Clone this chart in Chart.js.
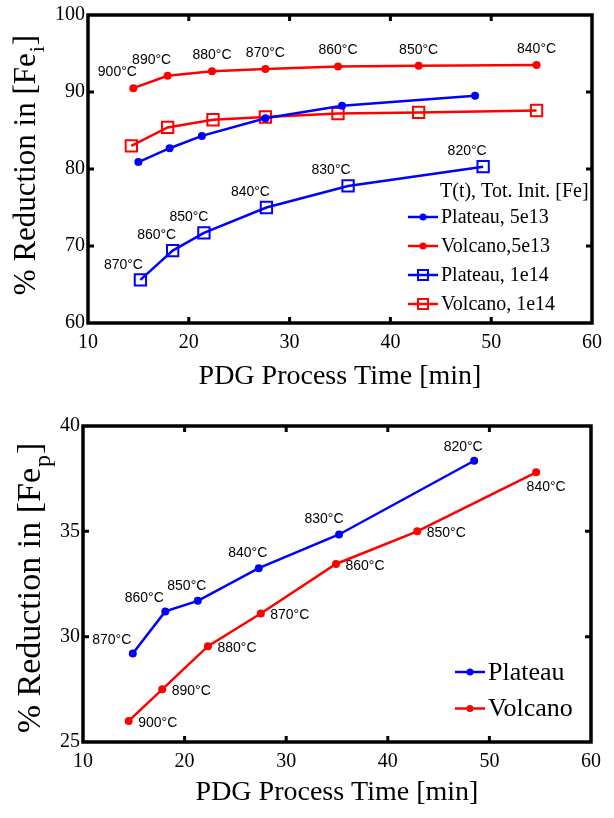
<!DOCTYPE html>
<html>
<head>
<meta charset="utf-8">
<script src="https://cdn.jsdelivr.net/npm/chart.js@4.4.1/dist/chart.umd.min.js"></script>
<style>
  body { margin: 0; background: #fff; }
  .wrap { position: absolute; left: 0; }
  #top { top: 0; }
  #bot { top: 400px; }
</style>
</head>
<body>
<div class="wrap" id="top"><canvas id="ch1" width="614" height="400"></canvas></div>
<div class="wrap" id="bot"><canvas id="ch2" width="614" height="418"></canvas></div>
<script>
// top panel - total initial Fe
var timeP5 = [15.0, 18.1, 21.3, 27.6, 35.2, 48.4];
var redP5 = [80.9, 82.7, 84.3, 86.6, 88.2, 89.5];
var timeV5 = [14.5, 17.9, 22.3, 27.6, 34.8, 42.8, 54.5];
var redV5 = [90.5, 92.1, 92.7, 93.0, 93.3, 93.4, 93.5];
var timeP14 = [15.2, 18.4, 21.5, 27.7, 35.8, 49.2];
var redP14 = [65.6, 69.4, 71.7, 75.0, 77.8, 80.3];
var timeV14 = [14.3, 17.9, 22.4, 27.6, 34.8, 42.8, 54.5];
var redV14 = [83.0, 85.4, 86.4, 86.75, 87.2, 87.35, 87.6];
var tempsV = ['900°C', '890°C', '880°C', '870°C', '860°C', '850°C', '840°C'];
var tempsP = ['870°C', '860°C', '850°C', '840°C', '830°C', '820°C'];

// bottom panel - precipitated Fe
var timeP = [14.9, 18.1, 21.3, 27.3, 35.2, 48.5];
var redP = [29.2, 31.2, 31.7, 33.25, 34.85, 38.35];
var timeV = [14.5, 17.8, 22.3, 27.5, 34.9, 42.9, 54.6];
var redV = [26.0, 27.5, 29.55, 31.1, 33.45, 35.0, 37.8];

var xTicks = [10, 20, 30, 40, 50, 60];

var serif = "'Liberation Serif', 'Times New Roman', serif";
var sans = "'Liberation Sans', Arial, sans-serif";
var BLUE = '#0000ff', RED = '#ff0000';

function pts(xs, ys) {
  return xs.map(function (x, i) { return { x: x, y: ys[i] }; });
}

function ds(label, xs, ys, color, square, temps) {
  return {
    label: label,
    data: pts(xs, ys),
    borderColor: color,
    backgroundColor: color,
    borderWidth: 2.5,
    pointStyle: square ? 'rect' : 'circle',
    pointRadius: square ? 8 : 4,
    pointBorderWidth: square ? 2 : 0,
    pointBackgroundColor: square ? 'rgba(0,0,0,0)' : color,
    pointBorderColor: color,
    temps: temps
  };
}

// frame, inward ticks, titles, point labels, legend
var decor = {
  id: 'decor',
  afterDatasetsDraw: function (chart, args, o) {
    var ctx = chart.ctx, a = chart.chartArea;
    ctx.save();
    // temperature labels
    ctx.font = '14px ' + sans;
    ctx.fillStyle = '#000';
    ctx.textAlign = 'center';
    ctx.textBaseline = 'middle';
    chart.data.datasets.forEach(function (d, di) {
      if (!d.temps) return;
      var meta = chart.getDatasetMeta(di);
      var off = o.offsets[di];
      meta.data.forEach(function (p, i) {
        ctx.fillText(d.temps[i], p.x + off.dx[i], p.y + off.dy[i]);
      });
    });

    // box and inward ticks
    ctx.strokeStyle = '#000';
    ctx.lineWidth = 3.5;
    ctx.strokeRect(a.left, a.top, a.right - a.left, a.bottom - a.top);
    ctx.lineWidth = 3;
    var sx = chart.scales.x, sy = chart.scales.y;
    sx.ticks.forEach(function (t) {
      var px = sx.getPixelForValue(t.value);
      if (px <= a.left + 2 || px >= a.right - 2) return;
      ctx.beginPath();
      ctx.moveTo(px, a.bottom); ctx.lineTo(px, a.bottom - 6);
      ctx.moveTo(px, a.top); ctx.lineTo(px, a.top + 6);
      ctx.stroke();
    });
    sy.ticks.forEach(function (t) {
      var py = sy.getPixelForValue(t.value);
      if (py <= a.top + 2 || py >= a.bottom - 2) return;
      ctx.beginPath();
      ctx.moveTo(a.left, py); ctx.lineTo(a.left + 6, py);
      ctx.moveTo(a.right, py); ctx.lineTo(a.right - 6, py);
      ctx.stroke();
    });

    // x title
    ctx.font = '28px ' + serif;
    ctx.textAlign = 'center';
    ctx.textBaseline = 'middle';
    ctx.fillText('PDG Process Time [min]', (a.left + a.right) / 2, o.xTitleY);

    // y title with subscript
    ctx.save();
    ctx.translate(o.yTitleX, o.yTitleY);
    ctx.rotate(-Math.PI / 2);
    var f1 = o.yFont + 'px ' + serif, f2 = Math.round(o.yFont * 0.7) + 'px ' + serif;
    var s1 = '% Reduction in [Fe', s2 = o.sub, s3 = ']';
    ctx.font = f1; var w1 = ctx.measureText(s1).width, w3 = ctx.measureText(s3).width;
    ctx.font = f2; var w2 = ctx.measureText(s2).width;
    var x0 = -(w1 + w2 + w3 + 2) / 2;
    ctx.textAlign = 'left';
    ctx.textBaseline = 'alphabetic';
    ctx.font = f1; ctx.fillText(s1, x0, o.yFont * 0.33);
    ctx.font = f2; ctx.fillText(s2, x0 + w1 + 1, o.yFont * 0.62);
    ctx.font = f1; ctx.fillText(s3, x0 + w1 + w2 + 2, o.yFont * 0.33);
    ctx.restore();

    // legend
    var L = o.legend;
    ctx.font = L.font + 'px ' + serif;
    ctx.textAlign = 'left';
    ctx.textBaseline = 'middle';
    if (L.title) ctx.fillText(L.title, L.titleX, L.titleY);
    chart.data.datasets.forEach(function (d, i) {
      var y = L.y0 + i * L.step;
      ctx.strokeStyle = d.borderColor;
      ctx.lineWidth = 2.5;
      ctx.beginPath();
      ctx.moveTo(L.x0, y); ctx.lineTo(L.x0 + L.len, y);
      ctx.stroke();
      var cx = L.x0 + L.len / 2;
      if (d.pointStyle === 'rect') {
        ctx.lineWidth = 2;
        ctx.strokeRect(cx - 5, y - 5, 10, 10);
      } else {
        ctx.fillStyle = d.borderColor;
        ctx.beginPath(); ctx.arc(cx, y, 3.5, 0, Math.PI * 2); ctx.fill();
      }
      ctx.fillStyle = '#000';
      ctx.fillText(d.label, L.x0 + L.len + 3, y + 1);
    });
    ctx.restore();
  }
};

function baseOptions(yMin, yMax, yStep, padTop, padRight, yWidth, xHeight, decorOpts) {
  return {
    responsive: false,
    animation: false,
    layout: { padding: { top: padTop, right: padRight, left: 0, bottom: 0 } },
    plugins: { legend: { display: false }, tooltip: { enabled: false }, decor: decorOpts },
    scales: {
      x: {
        type: 'linear', min: 10, max: 60,
        afterBuildTicks: function (s) { s.ticks = xTicks.map(function (v) { return { value: v }; }); },
        ticks: { font: { family: serif, size: 20 }, color: '#000', padding: 8, maxRotation: 0 },
        grid: { display: false, drawTicks: false },
        border: { display: false },
        afterFit: function (s) { s.height = xHeight; }
      },
      y: {
        min: yMin, max: yMax,
        ticks: { stepSize: yStep, font: { family: serif, size: 20 }, color: '#000', padding: 3 },
        grid: { display: false, drawTicks: false },
        border: { display: false },
        afterFit: function (s) { s.width = yWidth; }
      }
    }
  };
}

var c1 = document.getElementById('ch1').getContext('2d');
new Chart(c1, {
  type: 'line',
  data: {
    datasets: [
      ds('Plateau, 5e13', timeP5, redP5, BLUE, false, null),
      ds('Volcano,5e13', timeV5, redV5, RED, false, tempsV),
      ds('Plateau, 1e14', timeP14, redP14, BLUE, true, tempsP),
      ds('Volcano, 1e14', timeV14, redV14, RED, true, null)
    ]
  },
  options: baseOptions(60, 100, 10, 8, 22, 88, 77, {
    offsets: [
      null,
      { dx: [-16, -16, 0, 0, 0, 0, 0], dy: [-16, -16, -16, -16, -16, -16, -16] },
      { dx: [-17, -16, -15, -16, -17, -16], dy: [-15, -15, -16, -15, -16, -16] },
      null
    ],
    xTitleY: 377,
    yTitleX: 25, yTitleY: 165, yFont: 31, sub: 'i',
    legend: { font: 20, title: 'T(t), Tot. Init. [Fe]', titleX: 440, titleY: 192, x0: 408, len: 30, y0: 217, step: 29 }
  }),
  plugins: [decor]
});

var c2 = document.getElementById('ch2').getContext('2d');
new Chart(c2, {
  type: 'line',
  data: {
    datasets: [
      ds('Plateau', timeP, redP, BLUE, false, tempsP),
      ds('Volcano', timeV, redV, RED, false, tempsV)
    ]
  },
  options: baseOptions(25, 40, 5, 26, 23, 83, 76, {
    offsets: [
      { dx: [-21, -21, -11, -11, -15, -11], dy: [-13, -13, -15, -15, -15, -14] },
      { dx: [29, 29, 29, 29, 29, 29, 10], dy: [2, 2, 2, 2, 2, 2, 15] }
    ],
    xTitleY: 393,
    yTitleX: 29, yTitleY: 188, yFont: 34, sub: 'p',
    legend: { font: 26, title: null, x0: 455, len: 30, y0: 272, step: 36.5 }
  }),
  plugins: [decor]
});
</script>
</body>
</html>
